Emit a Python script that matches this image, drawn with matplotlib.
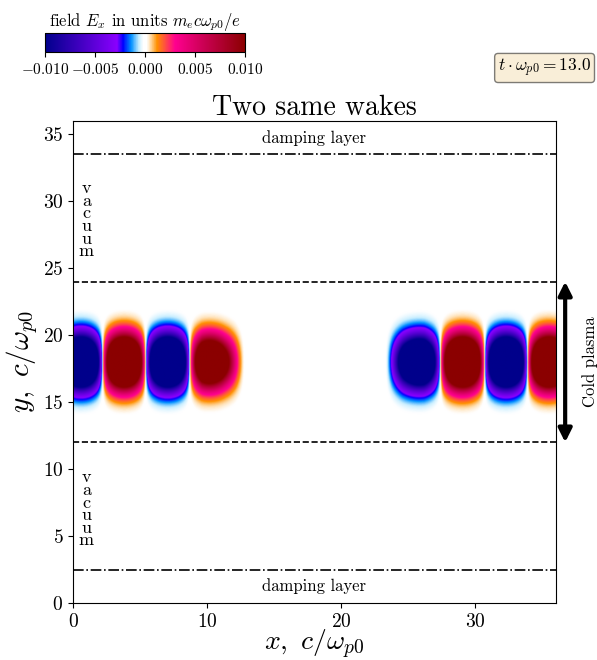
import numpy as np
import matplotlib.pyplot as plt
from matplotlib.colors import LinearSegmentedColormap

plt.rcParams["font.family"] = "serif"
plt.rcParams["font.serif"] = ["cmr10"]
plt.rcParams["mathtext.fontset"] = "cm"
plt.rcParams["axes.formatter.use_mathtext"] = True

# box and layer positions, c/omega_p0
box_size = 36.0
damping_y = [2.5, 33.5]
plasma_y = [12.0, 24.0]
wake_axis_y = 18.0
wake_amp = 0.034
wake_sigma_y = 1.2
t_wp = 13.0

# wake 1 (rear cut by the left border)
wake1_zero_x = [-1.05, 2.2, 5.4, 8.7, 12.9]
wake1_phase = [1, 2, 3, 4, 5]
wake1_env_x = [9.6, 11.3, 12.9]
wake1_env = [1.0, 0.45, 0.0]

# wake 2 (front cut by the right border)
wake2_zero_x = [23.2, 27.4, 30.7, 33.9, 37.1]
wake2_phase = [1, 2, 3, 4, 5]
wake2_env_x = [23.2, 24.6, 26.2]
wake2_env = [0.0, 0.55, 1.0]

cbar_ticks = [-0.01, -0.005, 0.0, 0.005, 0.01]

cmap = LinearSegmentedColormap.from_list(
    "wake",
    [
        (0.0, "#00008b"),
        (0.2, "#4a00c8"),
        (0.36, "#8a00ff"),
        (0.39, "#0000ff"),
        (0.43, "#0090ff"),
        (0.47, "#c8eeff"),
        (0.492, "#ffffff"),
        (0.508, "#ffffff"),
        (0.525, "#ffe2b8"),
        (0.56, "#ff9000"),
        (0.65, "#ff0090"),
        (0.8, "#c80050"),
        (1.0, "#8b0000"),
    ],
    N=512,
)


def wake_field(x, y, zero_x, phase, env_x, env):
    # longitudinal phase between zero crossings, amplitude envelope, gaussian in y
    phi = np.pi * np.interp(x, zero_x, phase)
    amp = np.interp(x, env_x, env)
    return wake_amp * amp * np.sin(phi) * np.exp(-((y - wake_axis_y) ** 2) / (2 * wake_sigma_y**2))


xs = np.linspace(0, box_size, 900)
ys = np.linspace(0, box_size, 900)
X, Y = np.meshgrid(xs, ys)
Ex = wake_field(X, Y, wake1_zero_x, wake1_phase, wake1_env_x, wake1_env)
Ex += wake_field(X, Y, wake2_zero_x, wake2_phase, wake2_env_x, wake2_env)

fig = plt.figure(figsize=(5.97, 6.6), dpi=100)
ax = fig.add_axes([0.1223, 0.0864, 0.809, 0.7303])
im = ax.imshow(
    Ex,
    extent=[0, box_size, 0, box_size],
    origin="lower",
    cmap=cmap,
    vmin=-0.01,
    vmax=0.01,
    interpolation="bilinear",
    aspect="auto",
)
ax.set_xlim(0, box_size)
ax.set_ylim(0, box_size)

for yd in damping_y:
    ax.axhline(yd, color="k", ls="-.", lw=1.2)
for yp in plasma_y:
    ax.axhline(yp, color="k", ls="--", lw=1.2)

ax.text(box_size / 2, (damping_y[1] + box_size) / 2, "damping layer", ha="center", va="center", fontsize=12)
ax.text(box_size / 2, damping_y[0] / 2, "damping layer", ha="center", va="center", fontsize=12)
for yv in [28.6, 7.0]:
    ax.text(1.0, yv, "v\na\nc\nu\nu\nm", ha="center", va="center", fontsize=13, linespacing=0.78)

ax.annotate(
    "",
    xy=(1.019, plasma_y[0]),
    xytext=(1.019, plasma_y[1]),
    xycoords=ax.get_yaxis_transform(),
    textcoords=ax.get_yaxis_transform(),
    arrowprops=dict(arrowstyle="<|-|>", color="k", lw=3, mutation_scale=20, shrinkA=0, shrinkB=0),
    annotation_clip=False,
)
ax.text(1.07, sum(plasma_y) / 2, "Cold plasma", rotation=90, ha="center", va="center",
        fontsize=12, transform=ax.get_yaxis_transform())

ax.set_xticks([0, 10, 20, 30])
ax.set_yticks([0, 5, 10, 15, 20, 25, 30, 35])
ax.tick_params(labelsize=14)
ax.set_xlabel(r"$x,\ c/\omega_{p0}$", fontsize=20, labelpad=-2)
ax.set_ylabel(r"$y,\ c/\omega_{p0}$", fontsize=21, labelpad=2)
ax.set_title("Two same wakes", fontsize=20, pad=4)

cax = fig.add_axes([0.0754, 0.921, 0.335, 0.0288])
cb = fig.colorbar(im, cax=cax, orientation="horizontal", ticks=cbar_ticks)
cb.ax.tick_params(labelsize=11)
cb.ax.set_title(r"field $E_x$ in units $m_ec\omega_{p0}/e$", fontsize=12, pad=4)

fig.text(0.99, 0.897, r"$t\cdot\omega_{p0} = %.1f$" % t_wp, ha="right", va="center", fontsize=12.5,
         bbox=dict(boxstyle="round,pad=0.2", facecolor="wheat", alpha=0.5))

fig.savefig("out.png", dpi=100)
